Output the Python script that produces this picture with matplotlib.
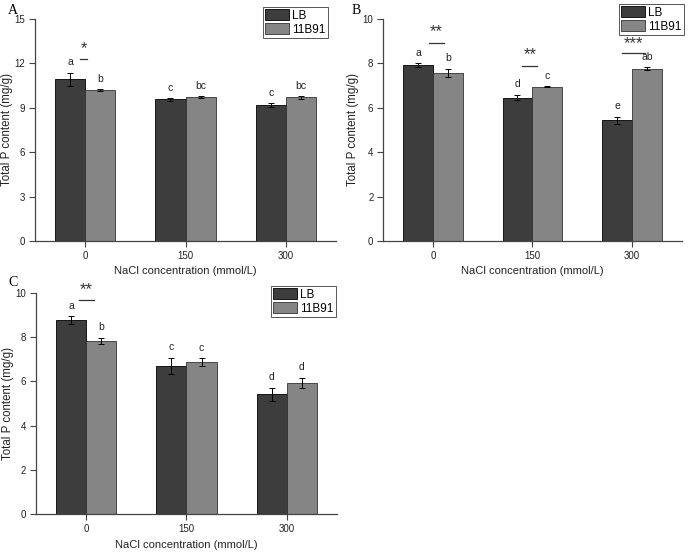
import matplotlib
matplotlib.use("Agg")
import matplotlib.pyplot as plt
import numpy as np

plt.rcParams['font.family'] = ['Liberation Sans', 'DejaVu Sans']

groups = ['0', '150', '300']
series = ['LB', '11B91']

# Panel A
A_lb = [10.93, 9.58, 9.19]
A_lb_err = [0.45, 0.10, 0.15]
A_11 = [10.21, 9.71, 9.71]
A_11_err = [0.05, 0.07, 0.10]
A_lb_letters = ['a', 'c', 'c']
A_11_letters = ['b', 'bc', 'bc']
A_sig = ['*', '', '']

# Panel B
B_lb = [7.92, 6.46, 5.43]
B_lb_err = [0.08, 0.12, 0.17]
B_11 = [7.58, 6.94, 7.76]
B_11_err = [0.18, 0.02, 0.07]
B_lb_letters = ['a', 'd', 'e']
B_11_letters = ['b', 'c', 'ab']
B_sig = ['**', '**', '***']

# Panel C
C_lb = [8.77, 6.69, 5.41]
C_lb_err = [0.17, 0.37, 0.30]
C_11 = [7.83, 6.86, 5.94]
C_11_err = [0.14, 0.18, 0.22]
C_lb_letters = ['a', 'c', 'd']
C_11_letters = ['b', 'c', 'd']
C_sig = ['**', '', '']

LB_COLOR = '#3d3d3d'
B91_COLOR = '#858585'
SPINE = '#444444'

W, H = 688, 552
fig = plt.figure(figsize=(6.88, 5.52), dpi=100)

def panel(rect, lb, lb_err, b9, b9_err, lbl_lb, lbl_b9, sig, ymax, ystep,
          letter_pad, sig_line, sig_text, sig_x, tag, tag_pos, leg_anchor,
          ylabel_right_px):
    ax = fig.add_axes(rect)
    x = np.arange(len(groups))
    w = 0.3
    ekw = dict(elinewidth=0.7, capthick=0.7, ecolor='black')
    ax.bar(x - w/2, lb, w, yerr=lb_err, color=LB_COLOR, edgecolor='black',
           linewidth=0.6, capsize=2, error_kw=ekw, label=series[0])
    ax.bar(x + w/2, b9, w, yerr=b9_err, color=B91_COLOR, edgecolor='#333333',
           linewidth=0.6, capsize=2, error_kw=ekw, label=series[1])
    for i in range(len(groups)):
        ax.text(x[i] - w/2, lb[i] + lb_err[i] + letter_pad, lbl_lb[i],
                ha='center', va='bottom', fontsize=7.5, color='#222222')
        ax.text(x[i] + w/2, b9[i] + b9_err[i] + letter_pad, lbl_b9[i],
                ha='center', va='bottom', fontsize=7.5, color='#222222')
        if sig[i]:
            x0, x1 = sig_x[i]
            ax.plot([x[i] + x0, x[i] + x1], [sig_line[i]] * 2, color='#333333', lw=0.9)
            ax.text(x[i] + (x0 + x1) / 2, sig_text[i], sig[i], ha='center',
                    va='center', fontsize=12, color='#333333')
    ax.set_xlim(-0.5, 2.5)
    ax.set_ylim(0, ymax)
    ax.set_yticks(np.arange(0, ymax + 0.01, ystep))
    ax.set_xticks(x)
    ax.set_xticklabels(groups)
    for s in ['top', 'right']:
        ax.spines[s].set_visible(False)
    for s in ['left', 'bottom']:
        ax.spines[s].set_color(SPINE)
        ax.spines[s].set_linewidth(0.9)
    ax.tick_params(axis='both', direction='out', length=4, width=0.8,
                   colors=SPINE, labelsize=7, labelcolor='#222222', pad=3)
    ax.set_ylabel('Total P content (mg/g)', fontsize=8.3, color='#222222')
    axw_px = rect[2] * W
    ax.yaxis.set_label_coords((ylabel_right_px - rect[0] * W) / axw_px, 0.5)
    ax.set_xlabel('NaCl concentration (mmol/L)', fontsize=8, color='#222222', labelpad=4)
    fig.text(tag_pos[0], tag_pos[1], tag, family='Liberation Serif',
             fontsize=10, ha='left', va='center')
    leg = ax.legend(loc='upper right', bbox_to_anchor=leg_anchor,
                    bbox_transform=fig.transFigure, fontsize=8.5,
                    handlelength=2.0, handleheight=1.0, labelspacing=0.15,
                    borderpad=0.2, handletextpad=0.3, borderaxespad=0,
                    fancybox=False, framealpha=1, edgecolor='#555555')
    leg.get_frame().set_linewidth(0.7)
    return ax

panel([0.0509, 0.5634, 0.4375, 0.4022], A_lb, A_lb_err, A_11, A_11_err,
      A_lb_letters, A_11_letters, A_sig, 15, 3, 0.35,
      [12.29, 0, 0], [12.97, 0, 0], [(-0.05, 0.02), None, None],
      'A', (8/W, 1 - 10/H), (328/W, 1 - 7/H), 13.5)

panel([0.557, 0.5634, 0.4337, 0.4022], B_lb, B_lb_err, B_11, B_11_err,
      B_lb_letters, B_11_letters, B_sig, 10, 2, 0.25,
      [8.93, 7.90, 8.47], [9.42, 8.40, 8.90],
      [(-0.04, 0.11), (-0.1, 0.05), (-0.1, 0.13)],
      'B', (352/W, 1 - 10/H), (684/W, 1 - 4/H), 359)

panel([0.0523, 0.0683, 0.4375, 0.4014], C_lb, C_lb_err, C_11, C_11_err,
      C_lb_letters, C_11_letters, C_sig, 10, 2, 0.25,
      [9.67, 0, 0], [10.15, 0, 0], [(-0.07, 0.08), None, None],
      'C', (8/W, 1 - 282/H), (336/W, 1 - 286/H), 14)

fig.savefig('out.png', dpi=100)
